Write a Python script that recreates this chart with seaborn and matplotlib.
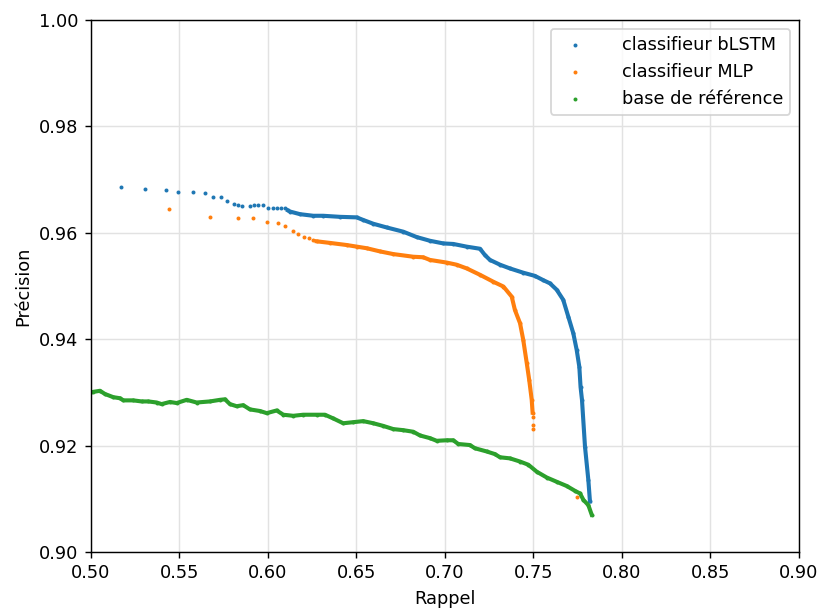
import matplotlib
matplotlib.use('Agg')
import matplotlib.pyplot as plt
import seaborn as sns

# courbes précision / rappel
blstm_rappel = [0.5168, 0.5305, 0.5424, 0.5491, 0.5576, 0.5642, 0.5691, 0.5734, 0.5770, 0.5806,
                0.5829, 0.5853, 0.5896, 0.5923, 0.5945, 0.5970, 0.6002, 0.6026, 0.6049, 0.6071,
                0.6094, 0.6113, 0.6124, 0.6181, 0.6256, 0.6312, 0.6407, 0.6501, 0.6539, 0.6595,
                0.6671, 0.6765, 0.6840, 0.6915, 0.6991, 0.7047, 0.7122, 0.7198, 0.7226, 0.7254,
                0.7311, 0.7367, 0.7442, 0.7508, 0.7555, 0.7593, 0.7631, 0.7668, 0.7697, 0.7725,
                0.7744, 0.7759, 0.7766, 0.7774, 0.7791, 0.7810, 0.7819]
blstm_precision = [0.9686, 0.9682, 0.9680, 0.9677, 0.9677, 0.9674, 0.9668, 0.9667, 0.9659, 0.9655,
                   0.9652, 0.9650, 0.9650, 0.9652, 0.9652, 0.9652, 0.9647, 0.9646, 0.9646, 0.9646,
                   0.9646, 0.9642, 0.9640, 0.9635, 0.9632, 0.9632, 0.9630, 0.9629, 0.9624, 0.9617,
                   0.9610, 0.9602, 0.9592, 0.9585, 0.9580, 0.9579, 0.9574, 0.9570, 0.9558, 0.9549,
                   0.9540, 0.9533, 0.9525, 0.9519, 0.9511, 0.9505, 0.9493, 0.9474, 0.9442, 0.9411,
                   0.9380, 0.9348, 0.9310, 0.9286, 0.9198, 0.9135, 0.9095]
blstm_dense = 21  # à partir d'ici les points se touchent

mlp_rappel = [0.5439, 0.5674, 0.5831, 0.5917, 0.5994, 0.6055, 0.6096, 0.6139, 0.6171, 0.6203,
              0.6230, 0.6252, 0.6275, 0.6350, 0.6445, 0.6501, 0.6558, 0.6633, 0.6708, 0.6821,
              0.6877, 0.6915, 0.7010, 0.7066, 0.7123, 0.7198, 0.7273, 0.7330, 0.7377, 0.7395,
              0.7424, 0.7442, 0.7462, 0.7476, 0.7490, 0.7495, 0.7495, 0.7495, 0.7499, 0.7744]
mlp_precision = [0.9644, 0.9629, 0.9628, 0.9627, 0.9621, 0.9619, 0.9612, 0.9604, 0.9598, 0.9593,
                 0.9591, 0.9587, 0.9584, 0.9581, 0.9577, 0.9574, 0.9571, 0.9565, 0.9560, 0.9555,
                 0.9554, 0.9549, 0.9544, 0.9540, 0.9533, 0.9521, 0.9508, 0.9499, 0.9480, 0.9455,
                 0.9430, 0.9399, 0.9355, 0.9323, 0.9286, 0.9262, 0.9254, 0.9239, 0.9231, 0.9104]
mlp_dense = (12, 36)

base_rappel = [0.5000, 0.5013, 0.5051, 0.5079, 0.5126, 0.5164, 0.5183, 0.5239, 0.5286, 0.5324,
               0.5371, 0.5399, 0.5446, 0.5484, 0.5541, 0.5597, 0.5672, 0.5729, 0.5757, 0.5785,
               0.5823, 0.5860, 0.5898, 0.5955, 0.5993, 0.6049, 0.6087, 0.6143, 0.6199, 0.6275,
               0.6322, 0.6369, 0.6425, 0.6482, 0.6538, 0.6595, 0.6651, 0.6708, 0.6764, 0.6821,
               0.6859, 0.6915, 0.6953, 0.7010, 0.7047, 0.7075, 0.7141, 0.7169, 0.7235, 0.7282,
               0.7311, 0.7367, 0.7424, 0.7471, 0.7518, 0.7575, 0.7631, 0.7688, 0.7734, 0.7763,
               0.7782, 0.7810, 0.7829]
base_precision = [0.9300, 0.9301, 0.9303, 0.9297, 0.9291, 0.9289, 0.9285, 0.9285, 0.9283, 0.9283,
                  0.9281, 0.9278, 0.9282, 0.9280, 0.9286, 0.9281, 0.9283, 0.9286, 0.9287, 0.9278,
                  0.9274, 0.9276, 0.9268, 0.9265, 0.9261, 0.9266, 0.9258, 0.9256, 0.9258, 0.9258,
                  0.9258, 0.9251, 0.9242, 0.9244, 0.9246, 0.9242, 0.9237, 0.9231, 0.9229, 0.9226,
                  0.9219, 0.9214, 0.9209, 0.9210, 0.9210, 0.9203, 0.9201, 0.9195, 0.9189, 0.9184,
                  0.9178, 0.9176, 0.9170, 0.9164, 0.9151, 0.9140, 0.9132, 0.9124, 0.9115, 0.9110,
                  0.9098, 0.9088, 0.9070]

x_ticks = [0.50, 0.55, 0.60, 0.65, 0.70, 0.75, 0.80, 0.85, 0.90]
y_ticks = [0.90, 0.92, 0.94, 0.96, 0.98, 1.00]

fig = plt.figure(figsize=(821 / 128, 610 / 128), dpi=128)
ax = fig.add_axes([0.1108, 0.0951, 0.8624, 0.8721])

lw = 2.3
sns.lineplot(x=blstm_rappel[blstm_dense:], y=blstm_precision[blstm_dense:], sort=False,
             estimator=None, color='C0', lw=lw, ax=ax)
sns.scatterplot(x=blstm_rappel, y=blstm_precision, s=5, linewidth=0, color='C0',
                label='classifieur bLSTM', ax=ax)

a, b = mlp_dense
sns.lineplot(x=mlp_rappel[a:b], y=mlp_precision[a:b], sort=False,
             estimator=None, color='C1', lw=lw, ax=ax)
sns.scatterplot(x=mlp_rappel, y=mlp_precision, s=5, linewidth=0, color='C1',
                label='classifieur MLP', ax=ax)

sns.lineplot(x=base_rappel, y=base_precision, sort=False,
             estimator=None, color='C2', lw=lw, ax=ax)
sns.scatterplot(x=base_rappel, y=base_precision, s=5, linewidth=0, color='C2',
                label='base de référence', ax=ax)

ax.set_xlim(0.5, 0.9)
ax.set_ylim(0.9, 1.0)
ax.set_xticks(x_ticks)
ax.set_yticks(y_ticks)
ax.grid(True, color='#e2e2e2', lw=0.8)
ax.set_axisbelow(True)
ax.set_xlabel('Rappel')
ax.set_ylabel('Précision')
ax.legend(loc='upper right', handletextpad=1.6)

fig.savefig('out.png', dpi=128)
